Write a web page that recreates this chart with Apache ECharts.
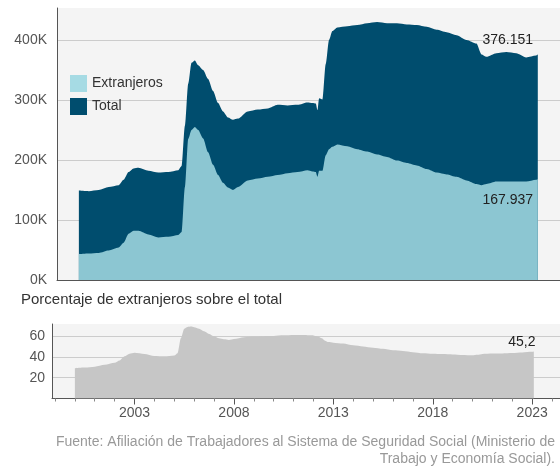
<!DOCTYPE html>
<html>
<head>
<meta charset="utf-8">
<script src="https://cdn.jsdelivr.net/npm/echarts@6/dist/echarts.min.js"></script>
<style>
html,body{margin:0;padding:0;background:#fff;}
#chart{width:560px;height:473px;}
</style>
</head>
<body>
<div id="chart"></div>
<script>
const dates = ['2000-01','2000-07','2001-01','2001-07','2002-01','2002-04','2002-07','2002-10',
  '2003-01','2003-07','2004-01','2004-07','2005-01','2005-03','2005-05','2005-07','2005-09','2005-11',
  '2006-01','2006-04','2006-07','2006-10','2007-01','2007-04','2007-07','2007-10',
  '2008-01','2008-07','2009-01','2009-07','2010-01','2010-07','2011-01','2011-07','2011-10','2011-12',
  '2012-01','2012-02','2012-04','2012-06','2012-08','2012-10',
  '2013-01','2013-07','2014-01','2014-07','2015-01','2015-07','2016-01','2016-07','2017-01','2017-07',
  '2018-01','2018-07','2019-01','2019-07','2020-01','2020-04','2020-07','2021-01','2021-07',
  '2022-01','2022-07','2023-01','2023-02'];
const totalValues = [149000,148000,150000,155000,158000,167000,180000,186000,
  187000,182000,179000,180000,183000,190000,257000,327000,362000,366000,
  358000,350000,335000,315000,295000,281000,271000,267000,
  269000,281000,284000,286000,292000,291000,292000,296000,295000,294000,
  283000,303000,301000,360000,400000,415000,
  421000,423000,425000,428000,430000,428000,428000,426000,425000,422000,
  417000,413000,408000,400000,394000,376000,372000,378000,380000,
  378000,371000,374000,376151];
const foreignValues = [43000,44000,45000,49000,54000,62000,77000,82000,
  82000,76000,71000,72000,75000,80000,155000,235000,250000,255000,
  250000,236000,213000,192000,175000,162000,154000,150000,
  155000,166000,169000,172000,175000,178000,180000,183000,181000,180000,
  172000,182000,182000,208000,218000,222000,
  226000,223000,218000,214000,209000,205000,199000,195000,191000,185000,
  179000,176000,172000,166000,160000,158000,160000,164000,164000,
  164000,164000,167000,167937];
const percentValues = [29.0,29.7,30.5,32.3,34.2,36.5,40.5,43.0,
  43.8,42.8,40.8,40.5,41.3,43.5,58.0,67.0,68.6,69.0,
  68.3,67.0,64.5,62.0,59.8,57.8,56.9,56.2,
  57.0,58.7,59.4,59.8,59.9,60.6,61.0,61.0,60.8,60.6,
  60.4,60.0,59.3,57.8,55.5,54.2,
  53.6,52.8,51.0,49.9,48.7,47.7,46.3,45.6,44.5,43.5,
  42.9,42.6,42.3,41.8,41.5,42.0,42.8,43.2,43.3,
  43.6,44.1,44.8,45.2];
const yearLabels = [2003, 2008, 2013, 2018, 2023];
const yearTicks = [1999,2000,2001,2002,2003,2004,2005,2006,2007,2008,2009,2010,2011,
  2012,2013,2014,2015,2016,2017,2018,2019,2020,2021,2022,2023,2024];
const titleText = 'Porcentaje de extranjeros sobre el total';
const sourceLines = ['Fuente: Afiliación de Trabajadores al Sistema de Seguridad Social (Ministerio de',
  'Trabajo y Economía Social).'];

const toYear = s => +s.slice(0, 4) + (+s.slice(5, 7) - 1) / 12;
const xs = dates.map(toYear);
const lastX = xs[xs.length - 1];
const lastTotal = totalValues[totalValues.length - 1];
const lastForeign = foreignValues[foreignValues.length - 1];
const lastPct = percentValues[percentValues.length - 1];
const fmtThousands = v => String(v).replace(/\B(?=(\d{3})+(?!\d))/g, '.');

const DARK = '#004d6e', LIGHT = '#8cc6d2', LIGHT_LEG = '#a6dbe4', GREY = '#c6c6c6';
const axisCol = '#555', gridCol = '#cccccc';
const FONT = '"Liberation Sans", Arial, sans-serif';

const chart = echarts.init(document.getElementById('chart'), null, {renderer: 'canvas'});
chart.setOption({
  animation: false,
  textStyle: {fontFamily: FONT},
  title: [
    {text: titleText, left: 21, top: 292, padding: 0,
     textStyle: {fontSize: 15, fontWeight: 'normal', color: '#333', fontFamily: FONT}}
  ],
  graphic: [
    {type: 'text', right: 5, top: 435, silent: true,
     style: {text: sourceLines[0], align: 'right', fontSize: 14, fill: '#999', fontFamily: FONT}},
    {type: 'text', right: 5, top: 452, silent: true,
     style: {text: sourceLines[1], align: 'right', fontSize: 14, fill: '#999', fontFamily: FONT}}
  ],
  legend: {
    orient: 'vertical', left: 70, top: 75, padding: 0, itemGap: 6,
    itemWidth: 17, itemHeight: 17, icon: 'rect',
    textStyle: {fontSize: 14, color: '#333', fontFamily: FONT},
    data: [
      {name: 'Extranjeros', itemStyle: {color: LIGHT_LEG}},
      {name: 'Total', itemStyle: {color: DARK}}
    ]
  },
  grid: [
    {left: 57, right: 0, top: 8, height: 272, show: true, backgroundColor: '#f4f4f4', borderWidth: 0},
    {left: 52, right: 0, top: 324, height: 74.5, show: true, backgroundColor: '#f4f4f4', borderWidth: 0}
  ],
  xAxis: [
    {gridIndex: 0, type: 'value', min: 1998.9, max: 2024.2,
     axisLine: {show: true, onZero: false, lineStyle: {color: axisCol}},
     axisTick: {show: false}, axisLabel: {show: false}, splitLine: {show: false}},
    {gridIndex: 1, type: 'value', min: 1998.85, max: 2024.4, position: 'bottom',
     axisLine: {show: true, onZero: false, lineStyle: {color: axisCol}},
     axisTick: {show: true, customValues: yearTicks, length: 3, lineStyle: {color: '#888'}},
     axisLabel: {show: false}, splitLine: {show: false}},
    {gridIndex: 1, type: 'value', min: 1998.85, max: 2024.4, position: 'bottom',
     axisLine: {show: false, onZero: false},
     axisTick: {show: true, customValues: yearLabels, length: 6, lineStyle: {color: axisCol}},
     axisLabel: {show: true, customValues: yearLabels, formatter: v => String(v),
       fontSize: 14, color: '#555', margin: 8},
     splitLine: {show: false}}
  ],
  yAxis: [
    {gridIndex: 0, type: 'value', min: 0, max: 453300, interval: 100000,
     axisLine: {show: true, onZero: false, lineStyle: {color: axisCol}},
     axisTick: {show: false},
     axisLabel: {formatter: v => (v % 100000 === 0 ? (v / 1000) + 'K' : ''),
       showMaxLabel: false, fontSize: 14, color: '#555', margin: 10},
     splitLine: {show: true, showMaxLine: false, lineStyle: {color: gridCol}}},
    {gridIndex: 1, type: 'value', min: 0, max: 71.5, interval: 20,
     axisLine: {show: true, onZero: false, lineStyle: {color: axisCol}},
     axisTick: {show: false},
     axisLabel: {formatter: v => (v > 0 && v % 20 === 0 ? String(v) : ''),
       showMaxLabel: false, fontSize: 14, color: '#555', margin: 7},
     splitLine: {show: true, showMaxLine: false, lineStyle: {color: gridCol}}}
  ],
  series: [
    {name: 'Total', type: 'line', xAxisIndex: 0, yAxisIndex: 0,
     data: xs.map((x, i) => [x, totalValues[i]]),
     showSymbol: false, symbol: 'none', smooth: 0.25, smoothMonotone: 'x',
     lineStyle: {width: 0}, itemStyle: {color: DARK},
     areaStyle: {color: DARK, opacity: 1},
     markPoint: {symbol: 'circle', symbolSize: 0, silent: true,
       data: [{coord: [lastX, lastTotal]}],
       label: {show: true, formatter: () => fmtThousands(lastTotal), offset: [-30, -14],
         fontSize: 14, color: '#222', fontFamily: FONT}}},
    {name: 'Extranjeros', type: 'line', xAxisIndex: 0, yAxisIndex: 0,
     data: xs.map((x, i) => [x, foreignValues[i]]),
     showSymbol: false, symbol: 'none', smooth: 0.25, smoothMonotone: 'x',
     lineStyle: {width: 0}, itemStyle: {color: LIGHT},
     areaStyle: {color: LIGHT, opacity: 1},
     markPoint: {symbol: 'circle', symbolSize: 0, silent: true,
       data: [{coord: [lastX, lastForeign]}],
       label: {show: true, formatter: () => fmtThousands(lastForeign), offset: [-30, 21],
         fontSize: 14, color: '#222', fontFamily: FONT}}},
    {name: 'Porcentaje', type: 'line', xAxisIndex: 1, yAxisIndex: 1,
     data: xs.map((x, i) => [x, percentValues[i]]),
     showSymbol: false, symbol: 'none', smooth: 0.25, smoothMonotone: 'x',
     lineStyle: {width: 0}, itemStyle: {color: GREY},
     areaStyle: {color: GREY, opacity: 1},
     markPoint: {symbol: 'circle', symbolSize: 0, silent: true,
       data: [{coord: [lastX, lastPct]}],
       label: {show: true, formatter: () => String(lastPct).replace('.', ','), offset: [-12, -9],
         fontSize: 14, color: '#222', fontFamily: FONT}}}
  ]
});
</script>
</body>
</html>
